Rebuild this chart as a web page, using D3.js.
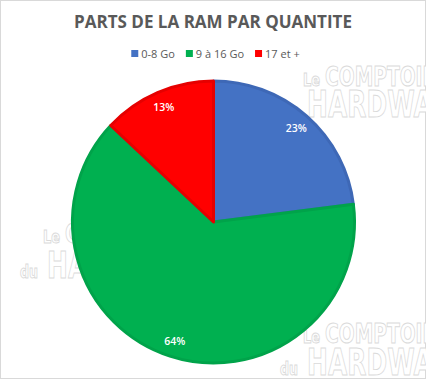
<!DOCTYPE html>
<html>
<head>
<meta charset="utf-8">
<script src="https://cdn.jsdelivr.net/npm/d3@7"></script>
<style>
  html, body { margin: 0; padding: 0; background: #fff; }
  svg { display: block; }
</style>
</head>
<body>
<script>
"use strict";

// data
var categories = ["0-8 Go", "9 à 16 Go", "17 et +"];
var values = [23, 64, 13];
var sliceColors = ["#4472C4", "#00B050", "#FF0000"];
var borderColors = ["#3e68b6", "#00a34a", "#e60000"];
var title = "PARTS DE LA RAM PAR QUANTITE";

var width = 426;
var height = 380;
var cx = 213.5, cy = 222, radius = 141;

var svg = d3.select("body").append("svg")
    .attr("width", width)
    .attr("height", height);

svg.append("rect")
    .attr("x", 0.5).attr("y", 0.5)
    .attr("width", width - 1).attr("height", height - 2)
    .attr("fill", "#fff")
    .attr("stroke", "#d9d9d9");

// watermark, behind the pie
var wmFont = "'Liberation Sans Narrow', 'DejaVu Sans Condensed', sans-serif";
function watermark(x, y, gap) {
    var w = svg.append("g")
        .attr("transform", "translate(" + x + "," + y + ")")
        .attr("fill", "#fff")
        .attr("stroke", "#dadada")
        .attr("stroke-width", 0.9)
        .style("font-family", wmFont)
        .style("font-weight", "bold");
    var parts = [
        {t: "Le", x: 0, y: 0, s: 17, l: 17},
        {t: "COMPTOIR", x: 22, y: 0, s: 26, l: 112},
        {t: "du", x: -23, y: gap, s: 17, l: 18},
        {t: "HARDWARE", x: 4, y: gap, s: 38, l: 162}
    ];
    w.selectAll("text").data(parts).enter().append("text")
        .attr("x", d => d.x).attr("y", d => d.y)
        .style("font-size", d => d.s + "px")
        .attr("textLength", d => d.l)
        .attr("lengthAdjust", "spacingAndGlyphs")
        .text(d => d.t);
}
watermark(303, 86, 31);
watermark(43, 243, 35);
watermark(303, 343, 32);

// title
svg.append("text")
    .attr("x", 213).attr("y", 28)
    .attr("text-anchor", "middle")
    .attr("fill", "#595959")
    .style("font-family", "'Open Sans', sans-serif")
    .style("font-weight", "bold")
    .style("font-size", "17px")
    .attr("textLength", 278)
    .attr("lengthAdjust", "spacingAndGlyphs")
    .text(title);

// legend
var legend = svg.append("g");
var lx = 0;
categories.forEach(function(c, i) {
    var item = legend.append("g").attr("transform", "translate(" + lx + ",0)");
    item.append("rect")
        .attr("x", 0).attr("y", -4)
        .attr("width", 7).attr("height", 7)
        .attr("fill", sliceColors[i]);
    var t = item.append("text")
        .attr("x", 10).attr("y", 4)
        .attr("fill", "#595959")
        .style("font-family", "'Open Sans', sans-serif")
        .style("font-size", "11px")
        .text(c);
    lx += 10 + t.node().getComputedTextLength() + 11;
});
var legendW = lx - 11;
legend.attr("transform", "translate(" + (215.5 - legendW / 2) + ",54)");

// pie
var pie = d3.pie().sort(null).value(d => d);
var arcs = pie(values);
var arc = d3.arc().innerRadius(0).outerRadius(radius);
var labelArc = d3.arc().innerRadius(125).outerRadius(125);

var g = svg.append("g").attr("transform", "translate(" + cx + "," + cy + ")");

g.selectAll("path").data(arcs).enter().append("path")
    .attr("d", arc)
    .attr("fill", (d, i) => sliceColors[i])
    .attr("stroke", (d, i) => borderColors[i])
    .attr("stroke-width", 3)
    .attr("stroke-linejoin", "round");

g.selectAll("text").data(arcs).enter().append("text")
    .attr("transform", d => "translate(" + labelArc.centroid(d) + ")")
    .attr("text-anchor", "middle")
    .attr("dy", "0.35em")
    .attr("fill", "#fff")
    .style("font-family", "'Open Sans', sans-serif")
    .style("font-weight", 600)
    .style("font-size", "10.5px")
    .text(d => d.data + "%");
</script>
</body>
</html>
